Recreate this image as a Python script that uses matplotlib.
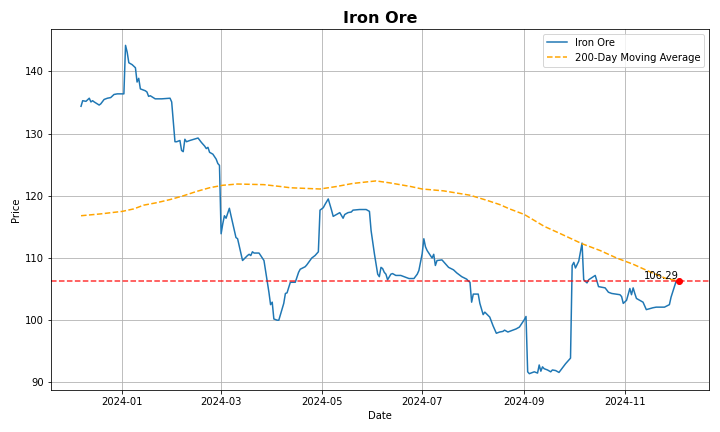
import matplotlib
matplotlib.use("Agg")
import matplotlib.pyplot as plt
import pandas as pd

# price readings (date, value)
price_dates = [
    "2023-12-07", "2023-12-08", "2023-12-10", "2023-12-12", "2023-12-13", "2023-12-14",
    "2023-12-15", "2023-12-18", "2023-12-19", "2023-12-21", "2023-12-23", "2023-12-25",
    "2023-12-27", "2023-12-29", "2024-01-02", "2024-01-03", "2024-01-04", "2024-01-05",
    "2024-01-07", "2024-01-09", "2024-01-10", "2024-01-11", "2024-01-12", "2024-01-15",
    "2024-01-16", "2024-01-17", "2024-01-18", "2024-01-21", "2024-01-25", "2024-01-30",
    "2024-01-31", "2024-02-02", "2024-02-03", "2024-02-05", "2024-02-06", "2024-02-07",
    "2024-02-08", "2024-02-09", "2024-02-11", "2024-02-16", "2024-02-18", "2024-02-20",
    "2024-02-21", "2024-02-22", "2024-02-23", "2024-02-25", "2024-02-27", "2024-02-28",
    "2024-02-29", "2024-03-01", "2024-03-02", "2024-03-03", "2024-03-04", "2024-03-06",
    "2024-03-07", "2024-03-10", "2024-03-11", "2024-03-14", "2024-03-17", "2024-03-18",
    "2024-03-19", "2024-03-20", "2024-03-21", "2024-03-24", "2024-03-27", "2024-03-30",
    "2024-03-31", "2024-04-01", "2024-04-02", "2024-04-04", "2024-04-05", "2024-04-08",
    "2024-04-09", "2024-04-10", "2024-04-12", "2024-04-15", "2024-04-17", "2024-04-18",
    "2024-04-21", "2024-04-22", "2024-04-25", "2024-04-27", "2024-04-29", "2024-04-30",
    "2024-05-02", "2024-05-03", "2024-05-05", "2024-05-07", "2024-05-08", "2024-05-10",
    "2024-05-12", "2024-05-14", "2024-05-15", "2024-05-17", "2024-05-19", "2024-05-20",
    "2024-05-24", "2024-05-28", "2024-05-30", "2024-05-31", "2024-06-02", "2024-06-04",
    "2024-06-05", "2024-06-06", "2024-06-07", "2024-06-08", "2024-06-09", "2024-06-10",
    "2024-06-12", "2024-06-13", "2024-06-15", "2024-06-18", "2024-06-20", "2024-06-23",
    "2024-06-26", "2024-06-28", "2024-06-29", "2024-07-01", "2024-07-02", "2024-07-03",
    "2024-07-04", "2024-07-06", "2024-07-07", "2024-07-08", "2024-07-09", "2024-07-10",
    "2024-07-13", "2024-07-15", "2024-07-17", "2024-07-20", "2024-07-22", "2024-07-25",
    "2024-07-28", "2024-07-29", "2024-07-30", "2024-07-31", "2024-08-01", "2024-08-04",
    "2024-08-05", "2024-08-07", "2024-08-08", "2024-08-11", "2024-08-13", "2024-08-15",
    "2024-08-17", "2024-08-19", "2024-08-20", "2024-08-22", "2024-08-24", "2024-08-27",
    "2024-08-29", "2024-09-01", "2024-09-02", "2024-09-03", "2024-09-04", "2024-09-07",
    "2024-09-09", "2024-09-10", "2024-09-11", "2024-09-12", "2024-09-13", "2024-09-15",
    "2024-09-17", "2024-09-18", "2024-09-20", "2024-09-22", "2024-09-26", "2024-09-29",
    "2024-09-30", "2024-10-01", "2024-10-02", "2024-10-04", "2024-10-06", "2024-10-07",
    "2024-10-09", "2024-10-10", "2024-10-14", "2024-10-16", "2024-10-20", "2024-10-22",
    "2024-10-24", "2024-10-29", "2024-10-30", "2024-10-31", "2024-11-02", "2024-11-04",
    "2024-11-05", "2024-11-06", "2024-11-07", "2024-11-08", "2024-11-12", "2024-11-14",
    "2024-11-18", "2024-11-20", "2024-11-25", "2024-11-28", "2024-11-29", "2024-12-02",
    "2024-12-04",
]
price_values = [
    134.4, 135.3, 135.2, 135.7, 135.1, 135.3,
    135.1, 134.6, 134.8, 135.5, 135.7, 135.8,
    136.3, 136.4, 136.4, 144.2, 143.1, 141.4,
    141.1, 140.6, 138.3, 138.9, 137.2, 136.9,
    136.7, 136.0, 136.1, 135.6, 135.6, 135.7,
    135.1, 128.7, 128.7, 128.9, 127.3, 127.1,
    129.1, 128.7, 128.9, 129.3, 128.6, 128.0,
    127.6, 127.8, 127.0, 126.7, 125.9, 125.2,
    124.9, 113.9, 115.5, 116.8, 116.4, 118.0,
    116.8, 113.3, 113.1, 109.6, 110.4, 110.6,
    110.4, 111.0, 110.8, 110.8, 109.6, 104.5,
    102.5, 102.9, 100.2, 100.0, 100.0, 102.7,
    104.3, 104.4, 106.1, 106.1, 107.7, 108.2,
    108.6, 108.9, 110.0, 110.4, 111.0, 117.7,
    118.1, 118.6, 119.5, 117.7, 116.7, 117.0,
    117.3, 116.4, 117.0, 117.3, 117.4, 117.7,
    117.8, 117.8, 117.5, 114.4, 110.7, 107.4,
    107.0, 108.5, 108.3, 107.7, 107.4, 106.5,
    107.4, 107.5, 107.2, 107.2, 107.0, 106.7,
    106.7, 107.4, 108.0, 110.7, 113.1, 111.8,
    111.2, 110.4, 110.0, 110.6, 108.8, 109.6,
    109.7, 109.1, 108.5, 108.1, 107.6, 107.0,
    106.6, 106.3, 106.1, 102.9, 104.2, 104.2,
    102.7, 100.9, 101.3, 100.5, 99.1, 97.9,
    98.1, 98.2, 98.4, 98.1, 98.3, 98.6,
    98.9, 100.1, 100.6, 91.7, 91.4, 91.7,
    91.5, 92.8, 91.8, 92.5, 92.2, 92.0,
    91.7, 92.0, 91.9, 91.6, 93.0, 93.9,
    108.8, 109.3, 108.4, 109.5, 112.4, 106.5,
    106.0, 106.5, 107.2, 105.4, 105.2, 104.5,
    104.3, 104.1, 103.8, 102.7, 103.2, 105.1,
    104.1, 105.2, 104.3, 103.5, 102.9, 101.7,
    102.0, 102.1, 102.1, 102.5, 103.7, 106.2,
    106.29,
]

# 200-day moving average readings
ma_dates = [
    "2023-12-07", "2023-12-19", "2024-01-01", "2024-01-08", "2024-01-14", "2024-01-22",
    "2024-01-30", "2024-02-07", "2024-02-15", "2024-02-23", "2024-03-02", "2024-03-11",
    "2024-03-27", "2024-04-06", "2024-04-12", "2024-04-30", "2024-05-10", "2024-05-20",
    "2024-06-03", "2024-06-11", "2024-06-24", "2024-07-01", "2024-07-14", "2024-07-30",
    "2024-08-09", "2024-08-17", "2024-08-23", "2024-09-01", "2024-09-13", "2024-09-23",
    "2024-10-06", "2024-10-17", "2024-10-27", "2024-11-06", "2024-11-16", "2024-11-26",
    "2024-12-04",
]
ma_values = [
    116.8, 117.1, 117.5, 117.9, 118.5, 118.9,
    119.4, 120.0, 120.7, 121.3, 121.7, 121.9,
    121.8, 121.5, 121.3, 121.1, 121.5, 122.0,
    122.4, 122.1, 121.5, 121.1, 120.8, 120.1,
    119.3, 118.6, 117.9, 117.0, 115.1, 113.9,
    112.3, 111.2, 110.0, 109.0, 107.8, 106.7,
    106.3,
]

price_dates = pd.to_datetime(price_dates)
ma_dates = pd.to_datetime(ma_dates)
last_date = price_dates[-1]
last_price = price_values[-1]

fig, ax = plt.subplots(figsize=(10, 6), dpi=72)
ax.plot(price_dates, price_values, label='Iron Ore', color='#1f77b4', linewidth=1.5)
ax.plot(ma_dates, ma_values, label='200-Day Moving Average', color='orange',
        linestyle='--', linewidth=1.5)
ax.axhline(y=last_price, color='red', linestyle='--', linewidth=1.5, alpha=0.8)
ax.scatter(last_date, last_price, color='red', zorder=5)
ax.text(last_date, last_price, f'{last_price:.2f}', ha='right', va='bottom', fontsize=10)

ax.set_title('Iron Ore', fontsize=16, fontweight='bold')
ax.set_xlabel('Date')
ax.set_ylabel('Price')
ax.grid(True)
ax.legend(loc='upper right')

fig.subplots_adjust(left=0.071, right=0.985, top=0.933, bottom=0.097)
fig.savefig('out.png', dpi=72)
